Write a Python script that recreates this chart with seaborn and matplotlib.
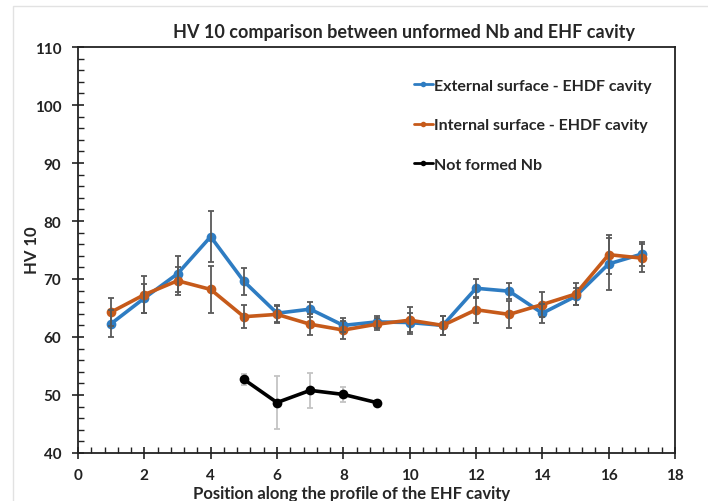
import numpy as np
import pandas as pd
import matplotlib
matplotlib.use("Agg")
import matplotlib.pyplot as plt
import seaborn as sns
from matplotlib.ticker import MultipleLocator
from matplotlib.patches import Rectangle

# ---- data ----
positions = [1, 2, 3, 4, 5, 6, 7, 8, 9, 10, 11, 12, 13, 14, 15, 16, 17]
external = [62.3, 66.7, 70.9, 77.3, 69.6, 64.1, 64.8, 62.0, 62.6, 62.5, 62.0, 68.4, 67.9, 64.1, 67.0, 72.6, 74.3]
external_err = [2.3, 2.5, 3.1, 4.4, 2.3, 1.5, 1.3, 1.2, 1.0, 1.7, 1.7, 1.6, 1.4, 1.6, 1.5, 4.5, 2.1]
internal = [64.3, 67.3, 69.7, 68.2, 63.5, 63.9, 62.2, 61.2, 62.2, 62.9, 62.0, 64.7, 63.9, 65.6, 67.4, 74.2, 73.6]
internal_err = [2.4, 3.2, 2.4, 4.1, 2.0, 1.5, 1.8, 1.6, 1.0, 2.3, 1.7, 2.2, 2.3, 2.1, 1.9, 3.4, 2.4]
nb_positions = [5, 6, 7, 8, 9]
nb = [52.7, 48.7, 50.8, 50.1, 48.7]
nb_err = [1.0, 4.6, 3.0, 1.3, 0.4]

labels = ["External surface - EHDF cavity", "Internal surface - EHDF cavity", "Not formed Nb"]
colors = ["#2e7cc2", "#c65a1a", "#000000"]
err_colors = ["#595959", "#595959", "#c4c4c4"]

title = "HV 10 comparison between unformed Nb and EHF cavity"
xlabel = "Position along the profile of the EHF cavity"
ylabel = "HV 10"

sns.set_style("ticks")
plt.rcParams['font.family'] = ['Lato', 'DejaVu Sans']
plt.rcParams['font.weight'] = 'bold'

df = pd.concat([
    pd.DataFrame({"x": positions, "y": external, "err": external_err, "series": labels[0]}),
    pd.DataFrame({"x": positions, "y": internal, "err": internal_err, "series": labels[1]}),
    pd.DataFrame({"x": nb_positions, "y": nb, "err": nb_err, "series": labels[2]}),
], ignore_index=True)

W, H = 708, 502
fig = plt.figure(figsize=(W / 100, H / 100), dpi=100)
ax = fig.add_axes([78 / W, 1 - 454 / H, (675 - 78) / W, (454 - 48) / H])

sns.lineplot(data=df, x="x", y="y", hue="series", palette=dict(zip(labels, colors)),
             marker="o", markersize=7, markeredgewidth=0, linewidth=2.6,
             sort=False, ax=ax, zorder=2)

for lab, ec, z in zip(labels, err_colors, [3, 3, 1.5]):
    sub = df[df["series"] == lab]
    ax.errorbar(sub["x"], sub["y"], yerr=sub["err"], fmt="none", ecolor=ec,
                elinewidth=1.3, capsize=2.5, capthick=1.3, zorder=z)

ax.set_xlim(0, 18)
ax.set_ylim(40, 110)
ax.xaxis.set_major_locator(MultipleLocator(2))
ax.xaxis.set_minor_locator(MultipleLocator(0.4))
ax.yaxis.set_major_locator(MultipleLocator(10))
ax.yaxis.set_minor_locator(MultipleLocator(2))
ax.tick_params(axis="both", which="major", direction="inout", length=8, width=1.2,
               labelsize=11, colors="#222222")
ax.tick_params(axis="x", which="major", pad=6.5)
ax.tick_params(axis="y", which="major", pad=8)
ax.tick_params(axis="both", which="minor", direction="in", length=4, width=1.0, colors="#222222")
for lbl in ax.get_xticklabels() + ax.get_yticklabels():
    lbl.set_fontweight("bold")
for sp in ax.spines.values():
    sp.set_linewidth(1.3)
    sp.set_color("#222222")
ax.set_xlabel("")
ax.set_ylabel("")

fig.text(32 / W, 1 - 250 / H, ylabel, rotation=90, ha="center", va="center",
         fontsize=12, fontweight="bold")
fig.text(352 / W, 1 - 494 / H, xlabel, ha="center", va="center", fontsize=12, fontweight="bold")
fig.text(404 / W, 1 - 33 / H, title, ha="center", va="center", fontsize=13, fontweight="bold")

leg = ax.legend(loc="upper left", bbox_to_anchor=(0.538, 0.958), frameon=False,
                handlelength=1.2, handletextpad=0.1, labelspacing=1.6,
                prop={"weight": "bold", "size": 11.5})
for h in leg.legend_handles:
    h.set_markersize(4)
    h.set_linewidth(2)

fig.patches.append(Rectangle((13 / W, -0.01), 1.0, 1 - 7 / H + 0.01, transform=fig.transFigure,
                             fill=False, edgecolor="#e2e2e2", linewidth=1.0))

fig.savefig("out.png", dpi=100)
